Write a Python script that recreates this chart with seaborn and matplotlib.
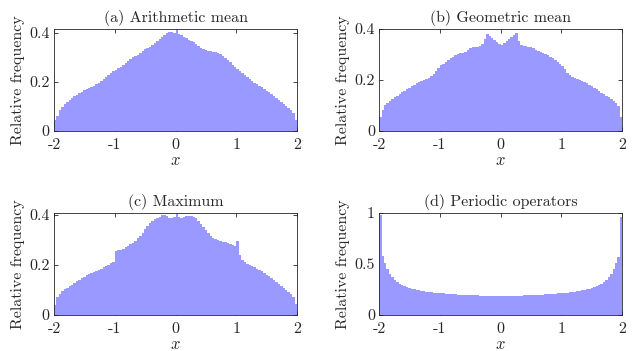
import numpy as np
import pandas as pd
import matplotlib
matplotlib.use("Agg")
import matplotlib.pyplot as plt
import seaborn as sns

# histogram bins shared by all panels
bin_edges = np.linspace(-2, 2, 101)

arith_mean = [
    0.044, 0.062, 0.085, 0.099, 0.110, 0.119, 0.127, 0.134, 0.141, 0.148,
    0.154, 0.160, 0.166, 0.171, 0.175, 0.180, 0.185, 0.191, 0.197, 0.204,
    0.211, 0.219, 0.227, 0.236, 0.244, 0.250, 0.255, 0.262, 0.270, 0.278,
    0.286, 0.295, 0.301, 0.306, 0.312, 0.319, 0.327, 0.334, 0.339, 0.344,
    0.350, 0.357, 0.366, 0.375, 0.384, 0.392, 0.399, 0.404, 0.405, 0.400,
    0.417, 0.396, 0.390, 0.384, 0.378, 0.371, 0.366, 0.361, 0.354, 0.345,
    0.338, 0.333, 0.330, 0.327, 0.325, 0.323, 0.321, 0.318, 0.313, 0.306,
    0.298, 0.290, 0.281, 0.271, 0.260, 0.251, 0.243, 0.235, 0.227, 0.219,
    0.211, 0.204, 0.197, 0.191, 0.185, 0.178, 0.171, 0.164, 0.157, 0.150,
    0.142, 0.134, 0.126, 0.118, 0.110, 0.102, 0.094, 0.086, 0.075, 0.045,
]

geom_mean = [
    0.053, 0.083, 0.100, 0.110, 0.118, 0.125, 0.132, 0.138, 0.145, 0.151,
    0.158, 0.164, 0.170, 0.176, 0.181, 0.187, 0.192, 0.197, 0.201, 0.205,
    0.209, 0.214, 0.222, 0.235, 0.247, 0.258, 0.264, 0.271, 0.278, 0.285,
    0.290, 0.296, 0.301, 0.304, 0.306, 0.308, 0.316, 0.325, 0.328, 0.329,
    0.330, 0.333, 0.342, 0.360, 0.380, 0.372, 0.362, 0.355, 0.348, 0.339,
    0.337, 0.345, 0.352, 0.360, 0.367, 0.374, 0.383, 0.352, 0.338, 0.333,
    0.331, 0.330, 0.329, 0.325, 0.318, 0.312, 0.308, 0.304, 0.301, 0.296,
    0.290, 0.285, 0.278, 0.271, 0.264, 0.256, 0.242, 0.228, 0.218, 0.213,
    0.209, 0.205, 0.201, 0.196, 0.191, 0.186, 0.180, 0.175, 0.169, 0.163,
    0.157, 0.150, 0.144, 0.137, 0.131, 0.124, 0.117, 0.108, 0.097, 0.053,
]

maximum = [
    0.040, 0.070, 0.085, 0.095, 0.102, 0.108, 0.114, 0.120, 0.127, 0.134,
    0.141, 0.147, 0.153, 0.158, 0.163, 0.168, 0.172, 0.176, 0.180, 0.185,
    0.190, 0.195, 0.200, 0.206, 0.213, 0.255, 0.258, 0.261, 0.265, 0.270,
    0.276, 0.282, 0.289, 0.297, 0.306, 0.316, 0.328, 0.342, 0.357, 0.368,
    0.376, 0.382, 0.388, 0.393, 0.398, 0.401, 0.397, 0.386, 0.387, 0.393,
    0.409, 0.391, 0.389, 0.393, 0.396, 0.396, 0.395, 0.392, 0.386, 0.375,
    0.362, 0.350, 0.338, 0.327, 0.316, 0.308, 0.303, 0.299, 0.296, 0.293,
    0.290, 0.287, 0.284, 0.280, 0.277, 0.296, 0.240, 0.218, 0.211, 0.205,
    0.200, 0.195, 0.190, 0.185, 0.179, 0.174, 0.168, 0.161, 0.154, 0.147,
    0.140, 0.133, 0.125, 0.117, 0.109, 0.101, 0.093, 0.084, 0.072, 0.042,
]

periodic = [
    0.975, 0.575, 0.505, 0.445, 0.400, 0.368, 0.342, 0.322, 0.306, 0.293,
    0.281, 0.271, 0.263, 0.256, 0.250, 0.244, 0.239, 0.235, 0.231, 0.227,
    0.224, 0.221, 0.218, 0.215, 0.213, 0.211, 0.209, 0.207, 0.205, 0.203,
    0.202, 0.200, 0.199, 0.197, 0.196, 0.195, 0.194, 0.193, 0.192, 0.191,
    0.190, 0.189, 0.188, 0.188, 0.187, 0.187, 0.186, 0.186, 0.186, 0.185,
    0.185, 0.186, 0.186, 0.186, 0.187, 0.187, 0.188, 0.188, 0.189, 0.190,
    0.191, 0.192, 0.193, 0.194, 0.195, 0.196, 0.197, 0.199, 0.200, 0.202,
    0.203, 0.205, 0.207, 0.209, 0.211, 0.213, 0.215, 0.218, 0.221, 0.224,
    0.227, 0.231, 0.235, 0.239, 0.244, 0.250, 0.256, 0.263, 0.271, 0.281,
    0.293, 0.306, 0.322, 0.342, 0.368, 0.400, 0.445, 0.505, 0.565, 0.960,
]

titles = ["(a) Arithmetic mean", "(b) Geometric mean", "(c) Maximum", "(d) Periodic operators"]
series = [arith_mean, geom_mean, maximum, periodic]
ylims = [0.417, 0.4, 0.409, 1.0]
yticks = [[0, 0.2, 0.4], [0, 0.2, 0.4], [0, 0.2, 0.4], [0, 0.5, 1]]
ytick_labels = [["0", "0.2", "0.4"], ["0", "0.2", "0.4"], ["0", "0.2", "0.4"], ["0", "0.5", "1"]]
xticks = [-2, -1, 0, 1, 2]
xtick_labels = ["-2", "-1", "0", "1", "2"]

sns.set_theme(style="ticks")
plt.rcParams["font.family"] = ["cmr10", "DejaVu Serif"]
plt.rcParams["mathtext.fontset"] = "cm"
plt.rcParams["axes.formatter.use_mathtext"] = True
plt.rcParams["axes.unicode_minus"] = False
plt.rcParams["axes.edgecolor"] = "#262626"
plt.rcParams["axes.linewidth"] = 0.6
plt.rcParams["xtick.direction"] = "in"
plt.rcParams["ytick.direction"] = "in"
plt.rcParams["xtick.top"] = True
plt.rcParams["ytick.right"] = True
plt.rcParams["xtick.color"] = "#262626"
plt.rcParams["ytick.color"] = "#262626"
plt.rcParams["xtick.major.size"] = 3
plt.rcParams["ytick.major.size"] = 3
plt.rcParams["xtick.major.width"] = 0.6
plt.rcParams["ytick.major.width"] = 0.6

fig = plt.figure(figsize=(6.35, 3.51), dpi=100)
positions = [
    [0.085, 0.627, 0.383, 0.291],
    [0.597, 0.627, 0.383, 0.291],
    [0.085, 0.103, 0.383, 0.291],
    [0.597, 0.103, 0.383, 0.291],
]

centers = (bin_edges[:-1] + bin_edges[1:]) / 2
for pos, title, vals, ytop, yt, ytl in zip(positions, titles, series, ylims, yticks, ytick_labels):
    ax = fig.add_axes(pos)
    df = pd.DataFrame({"x": centers, "freq": vals})
    sns.histplot(data=df, x="x", weights="freq", bins=bin_edges.tolist(), ax=ax,
                 element="step", fill=True, color="#9999ff", alpha=1, linewidth=0)
    ax.set_xlim(-2, 2)
    ax.set_ylim(0, ytop)
    ax.set_xticks(xticks)
    ax.set_xticklabels(xtick_labels, fontsize=11.5)
    ax.set_yticks(yt)
    ax.set_yticklabels(ytl, fontsize=11.5)
    ax.tick_params(axis="x", pad=5)
    ax.tick_params(axis="y", pad=3)
    ax.set_title(title, fontsize=11.5, pad=5)
    ax.set_xlabel("$x$", fontsize=12, labelpad=1)
    ax.set_ylabel("Relative frequency", fontsize=11.5, labelpad=3)
    for s in ax.spines.values():
        s.set_visible(True)

fig.savefig("out.png", dpi=100)
